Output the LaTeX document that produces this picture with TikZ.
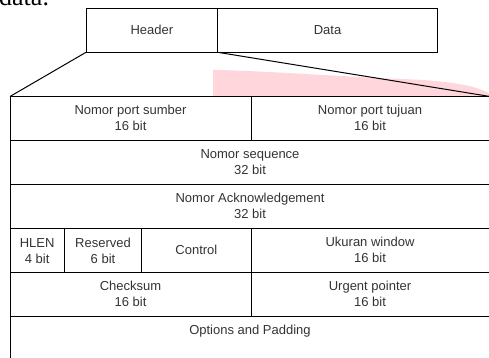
\documentclass[tikz,border=0pt]{standalone}
\usepackage{fontspec}
\setmainfont{Liberation Sans}
\newfontfamily\docserif{Liberation Serif}
\definecolor{txt}{HTML}{333333}
\definecolor{hl}{HTML}{FFD6DB}
\begin{document}
\begin{tikzpicture}[x=1pt,y=-1pt,
  box/.style={draw=black, line width=1pt, inner sep=0pt, outer sep=0pt, text=txt,
    font=\fontsize{13}{16.5}\selectfont, align=center},
  lbl/.style={inner sep=0pt, text=txt, font=\fontsize{13}{16.5}\selectfont, align=center},
  conn/.style={draw=black, line width=1pt}]
\useasboundingbox (0,0) rectangle (489,358);
\clip (0,0) rectangle (489,358);
% highlight
\fill[hl] (213,70) -- (213,96.5) -- (490,96.5) -- (490,94)
  .. controls (478,86) and (450,80.5) .. (400,79)
  .. controls (330,76) and (260,70.5) .. (213,70) -- cycle;
% clipped body text
\node[anchor=base west, inner sep=0pt, font=\docserif\fontsize{26}{30}\selectfont] (doc) at (-1,5.5) {data.};
% top boxes
\node[box, minimum width=131.7pt, minimum height=44pt, anchor=north west] (hdr) at (86,8.3) {Header};
\node[box, minimum width=219.6pt, minimum height=44pt, anchor=north west] (dat) at (217.7,8.3) {Data};
% table cells
\node[box, minimum width=241pt, minimum height=44pt, anchor=north west] (src) at (10,96.5) {};
\node[box, minimum width=239pt, minimum height=44pt, anchor=north west] (dst) at (251,96.5) {};
\node[box, minimum width=480pt, minimum height=44pt, anchor=north west] (seq) at (10,140.5) {};
\node[box, minimum width=480pt, minimum height=44pt, anchor=north west] (ack) at (10,184.5) {};
\node[box, minimum width=54.3pt, minimum height=44pt, anchor=north west] (hlen) at (10,228.5) {};
\node[box, minimum width=77.4pt, minimum height=44pt, anchor=north west] (res) at (64.3,228.5) {};
\node[box, minimum width=109.3pt, minimum height=44pt, anchor=north west] (ctl) at (141.7,228.5) {};
\node[box, minimum width=239pt, minimum height=44pt, anchor=north west] (win) at (251,228.5) {};
\node[box, minimum width=241pt, minimum height=44pt, anchor=north west] (chk) at (10,272.5) {};
\node[box, minimum width=239pt, minimum height=44pt, anchor=north west] (urg) at (251,272.5) {};
\node[box, minimum width=480pt, minimum height=44pt, anchor=north west] (opt) at (10,316.5) {};
% labels
\node[lbl] (tsrc) at (130.5,118) {Nomor port sumber\\16 bit};
\node[lbl] (tdst) at (370,118) {Nomor port tujuan\\16 bit};
\node[lbl] (tseq) at (250,162) {Nomor sequence\\32 bit};
\node[lbl] (tack) at (250,206) {Nomor Acknowledgement\\32 bit};
\node[lbl] (thlen) at (37.2,251) {HLEN\\4 bit};
\node[lbl] (tres) at (103,251) {Reserved\\6 bit};
\node[lbl] (tctl) at (196.4,250) {Control};
\node[lbl] (twin) at (370,250) {Ukuran window\\16 bit};
\node[lbl] (tchk) at (130.5,294) {Checksum\\16 bit};
\node[lbl] (turg) at (370,294) {Urgent pointer\\16 bit};
\node[lbl] (topt) at (250,331) {Options and Padding};
% connectors
\draw[conn] (hdr.south west) -- (src.north west);
\draw[conn] (hdr.south east) -- (dst.north east);
\end{tikzpicture}
\end{document}
